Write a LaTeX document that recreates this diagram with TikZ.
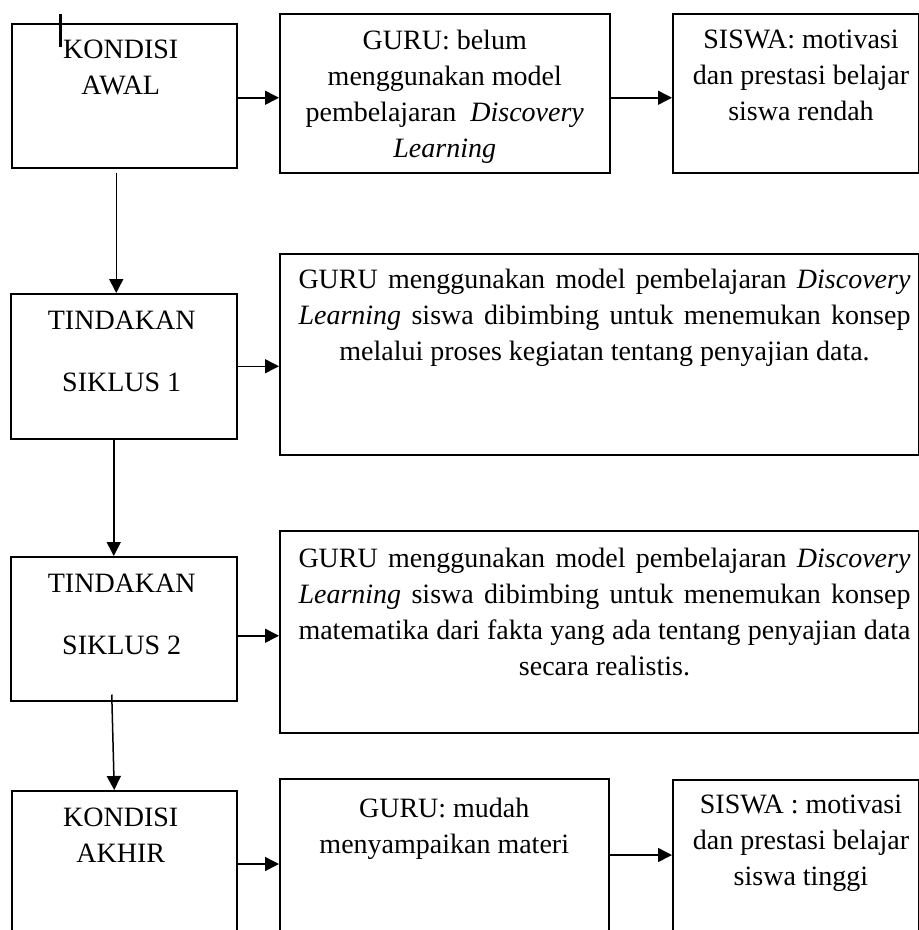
\documentclass[tikz,border=0pt]{standalone}
\usepackage{fontspec}
\setmainfont{Liberation Serif}
\usetikzlibrary{arrows.meta, positioning}

\newcommand{\fullline}[1]{\makebox[612pt][s]{#1}}

\begin{document}
\begin{tikzpicture}[x=1pt, y=-1pt,
  box/.style={draw, line width=1.5pt, inner sep=0pt, anchor=north west},
  txt/.style={align=center, inner sep=0pt, font=\fontsize{28}{36}\selectfont},
  arr/.style={-{Triangle[length=14pt, width=14pt]}, line width=1.5pt}]

\useasboundingbox (0,0) rectangle (919,930);
\clip (0,0) rectangle (919,930);

% --- left column
\node[box, minimum width=225pt, minimum height=144pt] (awal) at (11,23) {};
\node[box, minimum width=226pt, minimum height=145pt] (siklus1) at (10,293) {};
\node[box, minimum width=226pt, minimum height=144pt] (siklus2) at (10,556) {};
\node[box, minimum width=225pt, minimum height=170pt] (akhir) at (11,790) {};

\node[txt, below=17pt of awal.north, xshift=-3.5pt] (awal-t) {KONDISI\\AWAL};
\node[txt, below=18pt of siklus1.north, xshift=-2pt] (siklus1-t) {TINDAKAN\\[26pt]SIKLUS 1};
\node[txt, below=18pt of siklus2.north, xshift=-2pt] (siklus2-t) {TINDAKAN\\[26pt]SIKLUS 2};
\node[txt, below=18pt of akhir.north, xshift=-3.5pt] (akhir-t) {KONDISI\\AKHIR};

% --- guru
\node[box, minimum width=330pt, minimum height=159pt] (guru0) at (279,13) {};
\node[box, minimum width=638.5pt, minimum height=201pt] (guru1) at (279,253) {};
\node[box, minimum width=638.5pt, minimum height=202pt] (guru2) at (279,530) {};
\node[box, minimum width=329pt, minimum height=182pt] (guru3) at (279,778) {};

\node[txt, below=17pt of guru0.north] (guru0-t)
  {GURU: belum\\menggunakan model\\pembelajaran\ \ \textit{Discovery}\\\textit{Learning}};
\node[txt, below=16pt of guru1.north, xshift=5.5pt] (guru1-t)
  {\fullline{GURU menggunakan model pembelajaran \textit{Discovery}}\\
   \fullline{\textit{Learning} siswa dibimbing untuk menemukan konsep}\\
   melalui proses kegiatan tentang penyajian data.};
\node[txt, below=18pt of guru2.north, xshift=5.5pt] (guru2-t)
  {\fullline{GURU menggunakan model pembelajaran \textit{Discovery}}\\
   \fullline{\textit{Learning} siswa dibimbing untuk menemukan konsep}\\
   \fullline{matematika dari fakta yang ada tentang penyajian data}\\
   secara realistis.};
\node[txt, below=20pt of guru3.north] (guru3-t) {GURU: mudah\\menyampaikan materi};

% --- siswa
\node[box, minimum width=245.5pt, minimum height=159pt] (siswa0) at (672,13) {};
\node[box, minimum width=245.5pt, minimum height=181pt] (siswa3) at (672,779) {};

\node[txt, below=17pt of siswa0.north, xshift=5.5pt] (siswa0-t)
  {SISWA: motivasi\\dan prestasi belajar\\siswa rendah};
\node[txt, below=16pt of siswa3.north, xshift=5.5pt] (siswa3-t)
  {SISWA : motivasi\\dan prestasi belajar\\siswa tinggi};

% --- arrows
\draw[arr] ([yshift=-2pt]awal.east) -- ([yshift=-2pt]awal.east -| guru0.west);
\draw[arr] ([yshift=-2pt]awal.east -| guru0.east) -- ([yshift=-2pt]awal.east -| siswa0.west);
\draw[arr] ([xshift=-8pt, yshift=-4pt]awal.south) -- ([xshift=-8pt]awal.south |- siklus1.north);
\draw[arr] (siklus1.east) -- (siklus1.east -| guru1.west);
\draw[arr] ([xshift=-10pt]siklus1.south) -- ([xshift=-10pt]siklus1.south |- siklus2.north);
\draw[arr] ([yshift=-7pt]siklus2.east) -- ([yshift=-7pt]siklus2.east -| guru2.west);
\draw[arr] ([xshift=-12pt, yshift=7pt]siklus2.south) -- ([xshift=-10pt]akhir.north);
\draw[arr] ([yshift=-74pt]akhir.north east) -- ([yshift=-74pt]akhir.north east -| guru3.west);
\draw[arr] ([yshift=-77pt]guru3.north east) -- ([yshift=-77pt]guru3.north east -| siswa3.west);

% text cursor mark
\draw[line width=3pt] (60,14) -- (60,47);
\end{tikzpicture}
\end{document}
